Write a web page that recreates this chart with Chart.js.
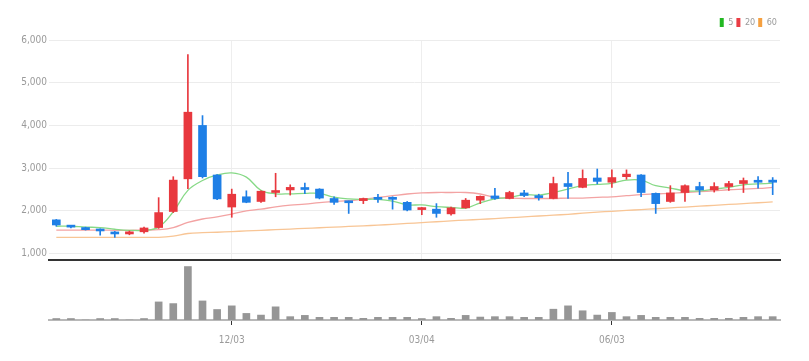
<!DOCTYPE html>
<html>
<head>
<meta charset="utf-8">
<script src="https://cdn.jsdelivr.net/npm/chart.js@4"></script>
<style>
  body { margin: 0; background: #fff; }
  #wrap { position: relative; width: 809px; height: 361px; overflow: hidden; }
  #main { position: absolute; left: 0; top: 0; }
  #vol { position: absolute; left: 0; top: 262px; }
</style>
</head>
<body>
<div id="wrap">
  <canvas id="main" width="809" height="268"></canvas>
  <canvas id="vol" width="809" height="99"></canvas>
</div>
<script>
// weekly candles (MM/DD)
const dates = ['09/10','09/17','09/24','10/01','10/08','10/15','10/22','10/29','11/05','11/12',
  '11/19','11/26','12/03','12/10','12/17','12/24','12/31','01/07','01/14','01/21',
  '01/28','02/04','02/11','02/18','02/25','03/04','03/11','03/18','03/25','04/01',
  '04/08','04/15','04/22','04/29','05/06','05/13','05/20','05/27','06/03','06/10',
  '06/17','06/24','07/01','07/08','07/15','07/22','07/29','08/05','08/12','08/19'];
const shownDates = ['12/03', '03/04', '06/03'];

const opens = [1790,1640,1610,1570,1480,1460,1510,1610,1985,2750,4000,2840,2090,2330,2220,2430,2490,2530,2510,2290,
  2220,2240,2300,2310,2200,2030,2040,1930,2070,2250,2350,2290,2420,2340,2290,2640,2550,2770,2670,2800,
  2840,2410,2220,2430,2570,2490,2570,2640,2710,2720];
const highs = [1800,1660,1620,1580,1520,1530,1620,2310,2800,5660,4230,2850,2510,2470,2470,2880,2610,2650,2520,2330,
  2230,2300,2390,2330,2220,2080,2170,2090,2290,2350,2530,2460,2480,2390,2790,2900,2960,2980,2960,2960,
  2850,2420,2590,2610,2670,2660,2690,2770,2800,2780];
const lows = [1640,1600,1550,1430,1380,1440,1480,1590,1960,2520,2770,2260,1850,2190,2200,2330,2370,2400,2280,2150,
  1940,2170,2200,2040,2000,1910,1850,1900,2060,2170,2270,2280,2330,2250,2280,2290,2540,2630,2550,2740,
  2330,1940,2200,2220,2380,2440,2480,2430,2530,2380];
const closes = [1670,1620,1560,1530,1460,1510,1600,1960,2720,4310,2800,2280,2390,2200,2460,2470,2550,2500,2300,2200,
  2190,2290,2270,2270,2020,2070,1940,2070,2250,2340,2290,2430,2360,2310,2640,2570,2760,2690,2780,2860,
  2430,2170,2420,2590,2490,2570,2640,2710,2670,2670];
const volumes = [15,15,0,15,15,0,15,184,167,544,194,107,144,67,50,134,34,47,27,27,
  27,17,27,27,27,15,34,17,47,30,34,34,27,27,110,144,94,50,77,34,
  47,27,27,27,17,17,17,27,34,34];

// moving averages
const ma5 = [1640,1640,1620,1610,1570,1545,1545,1620,1980,2480,2710,2840,2890,2790,2480,2400,2400,2410,2410,2320,
  2280,2270,2270,2230,2140,2140,2100,2080,2065,2190,2280,2315,2380,2370,2430,2510,2590,2620,2645,2720,
  2720,2590,2535,2470,2470,2510,2550,2610,2630,2650];
const ma20 = [1550,1550,1550,1550,1545,1545,1550,1560,1610,1730,1810,1860,1925,2000,2040,2095,2135,2160,2195,2220,
  2240,2275,2315,2355,2395,2420,2430,2430,2430,2395,2315,2300,2290,2290,2290,2300,2300,2315,2330,2355,
  2380,2395,2410,2430,2450,2470,2495,2510,2525,2550];
const ma60 = [1380,1380,1380,1380,1380,1380,1380,1380,1410,1470,1490,1500,1515,1530,1545,1560,1575,1590,1605,1620,
  1635,1650,1665,1685,1705,1725,1745,1765,1785,1800,1820,1840,1860,1880,1900,1920,1945,1970,1990,2010,
  2030,2050,2070,2090,2110,2130,2150,2170,2190,2210];

const maLabels = ['5', '20', '60'];
const maLineColors = ['#86d986', '#f3a3a3', '#f8c595'];
const maLegendColors = ['#22b822', '#ea3c44', '#f5a040'];

const UP = '#e8383e';
const DOWN = '#1e7fe6';
const FONT = "'Liberation Sans Narrow', 'DejaVu Sans', sans-serif";
const TEXT = '#9a9a9a';

const candleColors = opens.map((o, i) => closes[i] >= o ? UP : DOWN);
const PLOT_LEFT = 49;
const PAD_RIGHT = 29;

function fixWidth(scale) { scale.width = PLOT_LEFT; }

new Chart(document.getElementById('main'), {
  type: 'bar',
  data: {
    labels: dates,
    datasets: [
      {
        label: 'wick',
        data: lows.map((l, i) => [l, highs[i]]),
        backgroundColor: candleColors,
        barThickness: 1,
        grouped: false,
        order: 1
      },
      {
        label: 'body',
        data: opens.map((o, i) => [o, closes[i]]),
        backgroundColor: candleColors,
        barThickness: 8,
        minBarLength: 2,
        grouped: false,
        order: 0
      },
      { type: 'line', label: maLabels[0], data: ma5, borderColor: maLineColors[0], borderWidth: 1.3, pointRadius: 0, tension: 0.4, order: 2 },
      { type: 'line', label: maLabels[1], data: ma20, borderColor: maLineColors[1], borderWidth: 1.3, pointRadius: 0, tension: 0.4, order: 3 },
      { type: 'line', label: maLabels[2], data: ma60, borderColor: maLineColors[2], borderWidth: 1.3, pointRadius: 0, tension: 0.4, order: 4 }
    ]
  },
  options: {
    responsive: false,
    animation: false,
    layout: { padding: { top: 15, right: PAD_RIGHT, bottom: 2, left: 0 } },
    plugins: {
      tooltip: { enabled: false },
      legend: {
        position: 'top',
        align: 'end',
        labels: {
          boxWidth: 4,
          boxHeight: 9,
          padding: 3,
          color: TEXT,
          font: { size: 9, weight: 'condensed', family: FONT },
          generateLabels: () => maLabels.map((t, i) => ({
            text: t, fillStyle: maLegendColors[i], strokeStyle: maLegendColors[i],
            lineWidth: 0, hidden: false, datasetIndex: i + 2, fontColor: TEXT
          }))
        }
      }
    },
    scales: {
      x: {
        offset: true,
        ticks: { display: false },
        grid: {
          offset: false,
          tickLength: 0,
          color: ctx => shownDates.includes(dates[ctx.index]) ? '#eeeeee' : 'rgba(0,0,0,0)'
        },
        border: { color: '#333', width: 2 }
      },
      // spacer between legend and plot
      xTop: {
        type: 'category',
        position: 'top',
        ticks: { display: false },
        grid: { display: false },
        border: { display: false },
        afterFit: s => { s.height = 3; }
      },
      y: {
        min: 850,
        max: 6000,
        afterFit: fixWidth,
        afterBuildTicks: axis => { axis.ticks = [1000, 2000, 3000, 4000, 5000, 6000].map(v => ({ value: v })); },
        ticks: { color: TEXT, padding: 2, font: { size: 10, weight: 'condensed', family: FONT } },
        grid: { color: '#ececec', tickLength: 0 },
        border: { display: false }
      }
    }
  }
});

new Chart(document.getElementById('vol'), {
  type: 'bar',
  data: {
    labels: dates,
    datasets: [{
      data: volumes,
      backgroundColor: '#969696',
      barThickness: 7
    }]
  },
  options: {
    responsive: false,
    animation: false,
    layout: { padding: { top: 1, right: PAD_RIGHT, bottom: 6, left: PLOT_LEFT } },
    plugins: { legend: { display: false }, tooltip: { enabled: false } },
    scales: {
      x: {
        offset: true,
        ticks: {
          autoSkip: false,
          maxRotation: 0,
          color: TEXT,
          padding: 9,
          font: { size: 10, weight: 'condensed', family: FONT },
          callback: (v, i) => shownDates.includes(dates[i]) ? dates[i] : ''
        },
        grid: {
          offset: false,
          drawOnChartArea: false,
          tickLength: 5,
          tickColor: ctx => shownDates.includes(dates[ctx.index]) ? '#333' : 'rgba(0,0,0,0)'
        },
        border: { color: '#b8b8b8', width: 2 }
      },
      y: {
        display: false,
        min: 0,
        max: 580
      }
    }
  }
});
</script>
</body>
</html>
